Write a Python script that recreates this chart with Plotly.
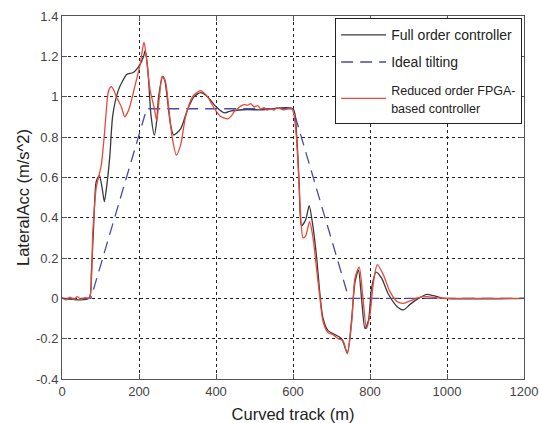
import plotly.graph_objects as go

# ---- data ----
full_x = [0,70,76,82,89,97,104,110,117,124,132,146,158,168,185,203,212,216,221,225,
          231,240,246,251,262,267,273,282,290,308,325,343,360,378,400,422,440,470,520,600,
          609,616,622,633,642,650,661,670,678,691,709,726,741,752,761,770,778,787,796,804,
          816,830,848,870,887,904,926,948,965,991,1200]
full_y = [0,0,0.12,0.35,0.58,0.61,0.55,0.48,0.57,0.70,0.91,1.03,1.08,1.11,1.12,1.16,1.2,1.23,1.17,1.08,
          0.91,0.81,0.88,1.0,1.10,1.08,1.0,0.86,0.81,0.84,0.93,1.0,1.02,1.0,0.95,0.92,0.93,0.935,0.935,0.94,
          0.82,0.57,0.36,0.39,0.46,0.38,0.21,0.02,-0.10,-0.16,-0.18,-0.20,-0.27,-0.11,0.08,0.14,0.0,-0.15,-0.11,0.05,
          0.13,0.10,0.02,-0.04,-0.057,-0.03,0.0,0.02,0.013,0.0,0.0]

ideal_x = [0, 75, 220, 600, 745, 1200]
ideal_y = [0, 0, 0.94, 0.94, 0, 0]

red_x = [0,10,20,30,40,50,60,71,80,89,95,102,110,119,123,128,135,141,154,163,
         170,176,189,203,213,220,229,239,246,253,260,268,277,286,297,308,321,339,350,360,
         378,390,400,413,420,430,440,447,456,464,473,482,490,499,508,516,525,533,542,550,
         558,567,576,585,593,600,607,613,619,626,633,643,652,661,670,678,691,704,717,730,
         741,752,761,772,781,791,800,809,819,835,852,870,887,904,926,948,974,1000,1050,1100,
         1150,1200]
red_y = [0.005,-0.008,0.006,-0.005,0.008,-0.006,0.004,0.0,0.33,0.55,0.6,0.66,0.81,1.01,1.04,1.05,1.03,1.0,0.95,0.9,
         0.92,0.95,1.05,1.16,1.27,1.18,1.03,0.95,0.88,1.0,1.10,1.08,0.95,0.80,0.71,0.76,0.90,1.0,1.02,1.03,
         1.0,0.96,0.93,0.90,0.895,0.89,0.905,0.925,0.94,0.953,0.96,0.958,0.965,0.95,0.955,0.94,0.945,0.933,0.94,0.933,
         0.945,0.94,0.935,0.94,0.945,0.93,0.84,0.67,0.44,0.30,0.31,0.38,0.30,0.15,0.0,-0.115,-0.17,-0.18,-0.2,-0.21,
         -0.275,-0.13,0.10,0.155,0.016,-0.15,-0.08,0.08,0.167,0.115,0.033,-0.016,-0.025,-0.013,0.003,0.008,0.003,0.0,0.0,0.0,
         0.0,0.0]

x_ticks = [0, 200, 400, 600, 800, 1000, 1200]
y_ticks = [-0.4, -0.2, 0, 0.2, 0.4, 0.6, 0.8, 1, 1.2, 1.4]
y_ticktext = ["-0.4", "-0.2", "0", "0.2", "0.4", "0.6", "0.8", "1", "1.2", "1.4"]

names = ["Full order controller", "Ideal tilting",
         "<span style='font-size:12.5px'>Reduced order FPGA-<br>based controller</span>"]

FONT = "Liberation Sans, Arial"

fig = go.Figure()
fig.add_trace(go.Scatter(x=full_x, y=full_y, mode="lines", name=names[0], legendgroup="a",
                         line=dict(color="#3a3a3a", width=1.3, shape="spline", smoothing=0.7)))
fig.add_trace(go.Scatter(x=ideal_x, y=ideal_y, mode="lines", name=names[1], legendgroup="b",
                         line=dict(color="#4a4aa8", width=1.3, dash="12px,7px")))
fig.add_trace(go.Scatter(x=red_x, y=red_y, mode="lines", name=names[2], legendgroup="c",
                         line=dict(color="#e8493a", width=1.3, shape="spline", smoothing=0.7)))

axis_common = dict(showline=True, linecolor="#555", linewidth=1, mirror="ticks",
                   ticks="inside", ticklen=5, tickcolor="#555", automargin=False,
                   showgrid=True, gridcolor="#222", griddash="dot", gridwidth=1,
                   zeroline=False, tickfont=dict(family=FONT, size=13, color="#444"))

fig.update_xaxes(range=[0, 1200], tickvals=x_ticks,
                 title=dict(text="Curved track (m)", font=dict(family=FONT, size=16.5, color="#222"), standoff=10),
                 **axis_common)
fig.update_yaxes(range=[-0.4, 1.4], tickvals=y_ticks, ticktext=y_ticktext,
                 title=dict(text="LateralAcc (m/s^2)", font=dict(family=FONT, size=16.5, color="#222"), standoff=2),
                 **axis_common)

fig.update_layout(
    width=539, height=423,
    margin=dict(l=62, r=15, t=16, b=44),
    paper_bgcolor="white", plot_bgcolor="white",
    font=dict(family=FONT, color="#222"),
    legend=dict(x=0.996, y=0.994, xanchor="right", yanchor="top",
                bgcolor="white", bordercolor="#222", borderwidth=1, itemwidth=45,
                font=dict(size=14, color="#222"), tracegroupgap=6),
)

fig.write_html("out.html")
